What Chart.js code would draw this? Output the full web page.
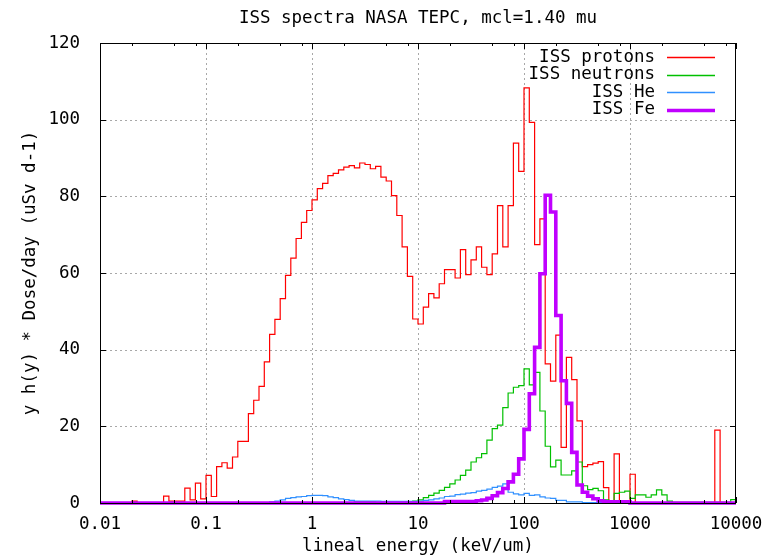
<!DOCTYPE html>
<html><head><meta charset="utf-8">
<script src="https://cdn.jsdelivr.net/npm/chart.js@4.4.1/dist/chart.umd.min.js"></script>
<style>html,body{margin:0;padding:0;background:#fff;}canvas{display:block;}</style>
</head><body>
<canvas id="c" width="781" height="557" style="width:781px;height:557px"></canvas>
<script>
const TITLE = 'ISS spectra NASA TEPC, mcl=1.40 mu';
const X_TITLE = 'lineal energy (keV/um)';
const Y_TITLE = 'y h(y) * Dose/day (uSv d-1)';
const X_TICKS = [0.01, 0.1, 1, 10, 100, 1000, 10000];
const X_TICK_LABELS = ['0.01', '0.1', '1', '10', '100', '1000', '10000'];
const X_MINOR_MULT = [2, 5, 8];
const Y_TICKS = [0, 20, 40, 60, 80, 100, 120];
const Y_TICK_LABELS = ['0', '20', '40', '60', '80', '100', '120'];
const SERIES_LABELS = ['ISS protons', 'ISS neutrons', 'ISS He', 'ISS Fe'];
// histogram bins: 20 per decade, from 0.01 to 10000 (120 bins)
const BINS_PER_DECADE = 20;
const FIRST_DECADE_EXP = -2;

const protons = [
 0,0,0,0,0,0,0.5,0,0,0,
 0,0,1.8,0.5,0.5,0.5,3.9,0.8,5.2,1.1,
 7.2,1.7,9.5,10.5,9.1,12.0,16.1,16.1,23.3,26.8,
 30.4,36.8,44.0,47.9,53.3,59.4,63.9,69.0,73.2,76.3,
 79.1,82.0,83.4,85.4,86.0,86.9,87.6,88.0,87.4,88.7,
 88.3,87.2,87.8,85.0,84.0,80.2,75.0,66.8,59.1,48.0,
 46.7,51.1,54.6,53.5,57.2,60.9,60.9,58.7,66.1,59.6,
 63.4,66.8,61.5,59.6,65.0,77.6,66.8,77.6,93.9,86.5,
 108.3,99.3,67.4,74.1,36.3,31.8,43.8,14.5,38.0,32.2,
 21.4,9.5,10.0,10.4,10.8,4.0,0.5,12.8,0.3,0.3,
 7.5,0,0,0,0,0,0,0,0,0,
 0,0,0,0,0,0,19.0,0,0,0
];
const neutrons = [
 0,0,0,0,0,0,0,0,0,0,
 0,0,0,0,0,0,0,0,0,0,
 0,0,0,0,0,0,0,0,0,0,
 0,0,0,0,0,0,0,0,0,0,
 0,0,0,0,0,0,0,0,0.3,0.3,
 0.3,0.3,0.1,0.1,0.3,0.3,0.3,0.3,0.3,0.5,
 0.8,1.4,2.0,2.6,3.3,4.1,5.0,6.0,7.2,8.6,
 10.7,11.8,12.9,16.4,19.4,20.3,24.9,28.7,30.2,30.6,
 35.0,30.8,34.1,24.0,14.8,9.4,11.2,7.3,7.3,8.4,
 10.7,4.5,3.5,3.8,3.2,0.8,0.5,2.5,2.8,3.1,
 1.2,2.1,2.1,1.5,2.1,3.4,2.1,0.5,0.2,0.2,
 0.2,0.2,0.2,0.2,0.2,0.2,0.2,0.2,0.2,0.9
];
const helium = [
 0,0,0,0,0,0,0,0,0,0,
 0,0,0,0,0,0,0,0,0,0,
 0,0,0,0,0,0,0,0,0,0,
 0,0,0.3,0.5,0.8,1.2,1.4,1.6,1.7,1.9,
 2.0,2.0,1.9,1.6,1.4,1.1,0.9,0.7,0.5,0.5,
 0.5,0.5,0.5,0.4,0.4,0.4,0.4,0.4,0.4,0.4,
 0.5,0.7,0.8,1.1,1.3,1.7,1.8,2.2,2.3,2.6,
 2.7,3.1,3.3,3.6,4.1,4.4,5.0,2.8,2.4,2.1,
 2.5,2.0,2.1,1.6,1.3,1.2,0.7,0.7,0.3,0.3,
 0.3,0.1,0.1,0.1,0.1,0.1,0,0,0,0,
 0,0,0,0,0,0,0,0,0,0,
 0,0,0,0,0,0,0,0,0,0
];
const iron = [
 0,0,0,0,0,0,0,0,0,0,
 0,0,0,0,0,0,0,0,0,0,
 0,0,0,0,0,0,0,0,0,0,
 0,0,0,0,0,0,0,0,0,0,
 0,0,0,0,0,0,0,0,0,0,
 0,0,0,0,0,0,0,0,0,0,
 0,0,0,0,0,0.4,0.4,0.4,0.4,0.4,
 0.4,0.6,0.8,1.2,1.9,2.7,3.8,5.5,7.5,11.5,
 19.2,28.5,40.6,59.8,80.3,75.9,48.9,31.9,26.0,13.2,
 4.7,2.8,1.8,1.1,0.6,0.3,0.3,0.3,0.3,0.3,
 0,0,0,0,0,0,0,0,0,0,
 0,0,0,0,0,0,0,0,0,0
];

const COLORS = ['#ff0000', '#00c000', '#3090ff', '#c000ff'];
const WIDTHS = [1.2, 1.2, 1.2, 3.6];
const FONT = "'DejaVu Sans Mono', monospace";
const FS = 17.5;

function binEdge(i) { return Math.pow(10, FIRST_DECADE_EXP + i / BINS_PER_DECADE); }
function toSteps(values) {
  const pts = values.map((v, i) => ({ x: binEdge(i), y: v }));
  pts.push({ x: binEdge(values.length), y: values[values.length - 1] });
  return pts;
}

const seriesValues = [protons, neutrons, helium, iron];
const datasets = seriesValues.map((vals, k) => ({
  label: SERIES_LABELS[k],
  data: toSteps(vals),
  borderColor: COLORS[k],
  borderWidth: WIDTHS[k],
  pointRadius: 0,
  stepped: 'before',
  fill: false,
  tension: 0,
  order: 3 - k,
  clip: k === 3 ? 4 : 1
}));

const framePlugin = {
  id: 'frame',
  beforeDatasetsDraw(chart) {
    const { ctx, chartArea: a, scales: { x, y } } = chart;
    ctx.save();
    ctx.strokeStyle = '#a8a8a8';
    ctx.lineWidth = 1;
    ctx.setLineDash([2, 3]);
    ctx.beginPath();
    X_TICKS.forEach(v => {
      const px = Math.round(x.getPixelForValue(v)) + 0.5;
      if (px > a.left + 2 && px < a.right - 2) { ctx.moveTo(px, a.top); ctx.lineTo(px, a.bottom); }
    });
    Y_TICKS.forEach(v => {
      const py = Math.round(y.getPixelForValue(v)) + 0.5;
      if (py > a.top + 2 && py < a.bottom - 2) { ctx.moveTo(a.left, py); ctx.lineTo(a.right, py); }
    });
    ctx.stroke();
    ctx.restore();
  },
  afterDatasetsDraw(chart) {
    const { ctx, chartArea: a, scales: { x, y } } = chart;
    ctx.save();
    ctx.setLineDash([]);
    ctx.strokeStyle = '#000';
    ctx.lineWidth = 1;
    ctx.strokeRect(Math.round(a.left) + 0.5, Math.round(a.top) + 0.5,
                   Math.round(a.right - a.left) - 1, Math.round(a.bottom - a.top));
    ctx.beginPath();
    X_TICKS.forEach((v, i) => {
      const px = Math.round(x.getPixelForValue(v)) + 0.5;
      ctx.moveTo(px, a.bottom); ctx.lineTo(px, a.bottom - 6);
      ctx.moveTo(px, a.top); ctx.lineTo(px, a.top + 6);
      if (i < X_TICKS.length - 1) {
        X_MINOR_MULT.forEach(m => {
          const mx = Math.round(x.getPixelForValue(v * m)) + 0.5;
          ctx.moveTo(mx, a.bottom); ctx.lineTo(mx, a.bottom - 3);
          ctx.moveTo(mx, a.top); ctx.lineTo(mx, a.top + 3);
        });
      }
    });
    Y_TICKS.forEach(v => {
      const py = Math.round(y.getPixelForValue(v)) + 0.5;
      ctx.moveTo(a.left, py); ctx.lineTo(a.left + 6, py);
      ctx.moveTo(a.right, py); ctx.lineTo(a.right - 6, py);
    });
    ctx.stroke();
    ctx.fillStyle = '#000';
    ctx.font = FS + 'px ' + FONT;
    ctx.textAlign = 'center';
    ctx.textBaseline = 'middle';
    ctx.fillText(TITLE, (a.left + a.right) / 2, 18);
    SERIES_LABELS.forEach((label, i) => {
      const ly = 57 + i * 17.5;
      ctx.textAlign = 'right';
      ctx.fillStyle = '#000';
      ctx.fillText(label, 655, ly);
      ctx.strokeStyle = COLORS[i];
      ctx.lineWidth = i === 3 ? 3.6 : 1.5;
      ctx.beginPath();
      ctx.moveTo(667, Math.round(ly) + 0.5);
      ctx.lineTo(715, Math.round(ly) + 0.5);
      ctx.stroke();
    });
    ctx.restore();
  }
};

new Chart(document.getElementById('c'), {
  type: 'line',
  data: { datasets },
  options: {
    responsive: false,
    animation: false,
    events: [],
    layout: { padding: { top: 43, right: 45, left: 0, bottom: 0 } },
    plugins: { legend: { display: false }, title: { display: false }, tooltip: { enabled: false } },
    scales: {
      x: {
        type: 'logarithmic', min: 0.01, max: 10000,
        afterBuildTicks: s => { s.ticks = X_TICKS.map(v => ({ value: v })); },
        afterFit: s => { s.height = 54; },
        grid: { display: false }, border: { display: false },
        ticks: { autoSkip: false, maxRotation: 0, padding: 3, color: '#000',
                 font: { family: FONT, size: FS }, callback: (v, i) => X_TICK_LABELS[i] },
        title: { display: true, text: X_TITLE, color: '#000', font: { family: FONT, size: FS, lineHeight: 1.0 },
                 padding: { top: 0, bottom: 1.5 } }
      },
      y: {
        type: 'linear', min: 0, max: 120,
        afterBuildTicks: s => { s.ticks = Y_TICKS.map(v => ({ value: v })); },
        afterFit: s => { s.width = 100; },
        grid: { display: false }, border: { display: false },
        ticks: { autoSkip: false, padding: 12, color: '#000',
                 font: { family: FONT, size: FS }, callback: (v, i) => Y_TICK_LABELS[i] },
        title: { display: true, text: Y_TITLE, color: '#000', font: { family: FONT, size: FS },
                 padding: { top: 20, bottom: 0 } }
      }
    }
  },
  plugins: [framePlugin]
});
</script>
</body></html>
